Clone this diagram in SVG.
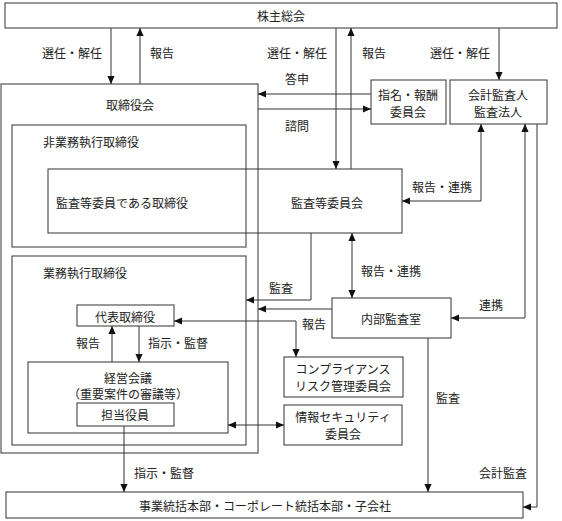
<svg xmlns="http://www.w3.org/2000/svg" width="562" height="521" viewBox="0 0 562 521">
<defs>
<marker id="ah" viewBox="0 0 10 10" refX="10" refY="5" markerWidth="8" markerHeight="8" markerUnits="userSpaceOnUse" orient="auto-start-reverse">
<path d="M0,0.5 L10,5 L0,9.5 z" fill="#111"/>
</marker>
<style>
.box{fill:#fff;stroke:#333;stroke-width:1}
.frame{fill:none;stroke:#333;stroke-width:1}
.t{font-family:"Noto Sans CJK JP","Liberation Sans",sans-serif;font-size:12px;fill:#222;dominant-baseline:central}
.m{text-anchor:middle}
.c{fill:none;stroke:#333;stroke-width:1}
.e{marker-end:url(#ah)}
.b{marker-start:url(#ah);marker-end:url(#ah)}
</style>
</defs>
<rect width="562" height="521" fill="#fff"/>
<g id="kabunushi"><rect class="box" x="5" y="3" width="552" height="25"/><text class="t m" x="281" y="15">株主総会</text></g>
<g id="torishimariyakukai"><rect class="frame" x="1" y="84" width="257" height="369"/><text class="t m" x="130" y="104">取締役会</text></g>
<g id="hi-gyoumu"><rect class="frame" x="12" y="125" width="234" height="122"/><text class="t" x="43" y="141">非業務執行取締役</text></g>
<g id="kansatou"><rect class="frame" x="48" y="169" width="354" height="64"/><text class="t" x="56" y="202">監査等委員である取締役</text><text class="t m" x="327" y="202">監査等委員会</text></g>
<g id="gyoumu"><rect class="frame" x="12" y="256" width="234" height="189"/><text class="t" x="43" y="272">業務執行取締役</text></g>
<g id="daihyou"><rect class="box" x="77" y="305" width="97" height="21"/><text class="t m" x="125" y="316">代表取締役</text></g>
<g id="keiei"><rect class="frame" x="28" y="362" width="200" height="71"/><text class="t m" x="128" y="377">経営会議</text><text class="t m" x="128" y="393">（重要案件の審議等）</text></g>
<g id="tantou"><rect class="box" x="77" y="403" width="97" height="23"/><text class="t m" x="125" y="414">担当役員</text></g>
<g id="shimei"><rect class="box" x="371" y="80" width="75" height="44"/><text class="t m" x="408" y="94">指名・報酬</text><text class="t m" x="408" y="111">委員会</text></g>
<g id="kaikei"><rect class="box" x="450" y="80" width="97" height="44"/><text class="t m" x="498" y="94">会計監査人</text><text class="t m" x="498" y="111">監査法人</text></g>
<g id="naibu"><rect class="box" x="332" y="298" width="119" height="40"/><text class="t m" x="391" y="318">内部監査室</text></g>
<g id="compliance"><rect class="box" x="284" y="357" width="119" height="40"/><text class="t m" x="343" y="368">コンプライアンス</text><text class="t m" x="343" y="385">リスク管理委員会</text></g>
<g id="security"><rect class="box" x="284" y="405" width="118" height="40"/><text class="t m" x="343" y="416">情報セキュリティ</text><text class="t m" x="343" y="433">委員会</text></g>
<g id="jigyou"><rect class="box" x="6" y="492" width="517" height="26"/><text class="t m" x="265" y="505">事業統括本部・コーポレート統括本部・子会社</text></g>
<g id="connectors">
<path class="c e" d="M111,28 V84"/>
<path class="c e" d="M140,84 V28"/>
<path class="c e" d="M336,28 V169"/>
<path class="c e" d="M351,169 V28"/>
<path class="c e" d="M499,28 V80"/>
<path class="c e" d="M371,94 H258"/>
<path class="c e" d="M258,109 H371"/>
<path class="c b" d="M402,201 H481 V124"/>
<path class="c b" d="M525,124 V318 H451"/>
<path class="c e" d="M537,124 V507 H523"/>
<path class="c b" d="M352,233 V298"/>
<path class="c e" d="M311,233 V300 H246"/>
<path class="c e" d="M332,309 H258"/>
<path class="c b" d="M174,321 H296 V357"/>
<path class="c e" d="M112,362 V326"/>
<path class="c e" d="M139,326 V362"/>
<path class="c b" d="M228,425 H284"/>
<path class="c e" d="M124,426 V492"/>
<path class="c e" d="M428,338 V492"/>
</g>
<g id="labels">
<text class="t m" x="72" y="52">選任・解任</text>
<text class="t m" x="162" y="52">報告</text>
<text class="t m" x="297" y="52">選任・解任</text>
<text class="t m" x="374" y="52">報告</text>
<text class="t m" x="460" y="52">選任・解任</text>
<text class="t m" x="297" y="78">答申</text>
<text class="t m" x="297" y="125">諮問</text>
<text class="t m" x="442" y="186">報告・連携</text>
<text class="t m" x="391" y="270">報告・連携</text>
<text class="t m" x="281" y="287">監査</text>
<text class="t m" x="491" y="304">連携</text>
<text class="t m" x="314" y="323">報告</text>
<text class="t m" x="88" y="342">報告</text>
<text class="t m" x="178" y="342">指示・監督</text>
<text class="t m" x="448" y="397">監査</text>
<text class="t m" x="164" y="472">指示・監督</text>
<text class="t m" x="503" y="472">会計監査</text>
</g>
</svg>
